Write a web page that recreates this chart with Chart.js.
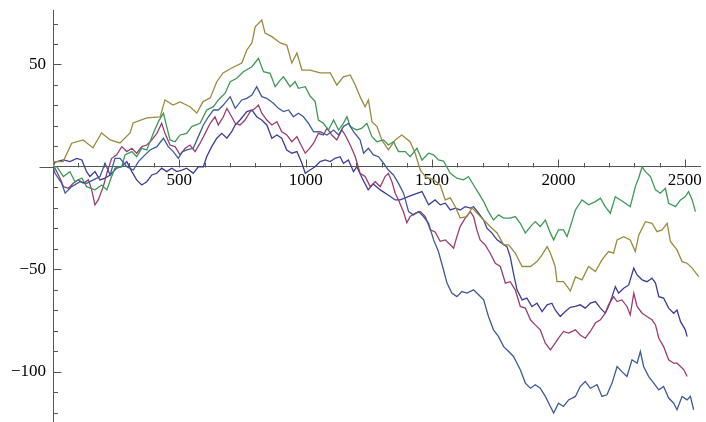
<!DOCTYPE html>
<html>
<head>
<meta charset="utf-8">
<script src="https://cdn.jsdelivr.net/npm/chart.js@4.4.1/dist/chart.umd.min.js"></script>
<style>
  html, body { margin: 0; padding: 0; background: #fff; }
  #wrap { width: 706px; height: 422px; }
</style>
</head>
<body>
<div id="wrap"><canvas id="walks"></canvas></div>
<script>
// five random walks, values as [step, position]
const indigo = [[0,0],[8,2.4],[41,3.4],[67,2.6],[94,4.2],[114,3.4],[133,-2.3],[146,-4.7],[166,-2.3],[186,-6.3],[206,-5.5],[226,-3.9],[252,-0.6],[272,0.1],[292,2.6],[312,-2.3],[331,-6.3],[351,-8.8],[371,-7.2],[391,-3.9],[411,-3.1],[430,-0.6],[450,-2.3],[470,-0.6],[490,-2.3],[510,-1.5],[529,-0.6],[555,-3.1],[575,0.1],[595,0.1],[608,5],[628,9.9],[648,14],[668,16.4],[688,14],[707,17.2],[721,20.5],[740,22.9],[767,27],[787,27.8],[806,24.5],[826,22.9],[846,20.5],[866,14],[886,15.6],[905,14],[925,8.3],[945,6.7],[965,7.5],[985,1.8],[998,-3.1],[1017,-1.5],[1037,0.1],[1057,2.6],[1077,3.4],[1097,2.6],[1116,4.2],[1136,5],[1149,1.8],[1169,3.4],[1189,-2.3],[1202,0.1],[1223,-5.4],[1247,-11.2],[1267,-8.3],[1295,-11.2],[1326,-13.7],[1354,-16.1],[1374,-16.1],[1413,-14.1],[1460,-12],[1486,-18.5],[1512,-16.1],[1532,-18.5],[1552,-17.7],[1572,-21],[1592,-20.1],[1611,-21],[1631,-19.4],[1651,-20.1],[1664,-19.4],[1684,-22.6],[1704,-25.9],[1717,-29.9],[1737,-32.3],[1757,-35.6],[1776,-37.2],[1796,-38.9],[1809,-43.8],[1822,-51.9],[1836,-60],[1856,-64.9],[1875,-64],[1895,-68.1],[1915,-66.5],[1935,-70.6],[1955,-67.3],[1974,-66.5],[1987,-69.8],[2007,-73],[2027,-70.6],[2047,-68.5],[2067,-68],[2086,-67.3],[2106,-68.9],[2126,-66.5],[2146,-65.7],[2166,-68.9],[2185,-71.4],[2198,-68.1],[2212,-63.3],[2225,-58.4],[2238,-61.6],[2258,-59.2],[2278,-57.6],[2298,-49.4],[2311,-52.7],[2331,-55.1],[2350,-56],[2370,-54.3],[2384,-56.7],[2397,-63.3],[2416,-64],[2436,-68.9],[2456,-71.4],[2469,-69.8],[2483,-75.5],[2502,-79.5],[2509,-82.8]];

const magenta = [[0,0],[8,-0.6],[28,-5.5],[41,-9.6],[61,-10.4],[80,-8],[100,-6.3],[120,-8],[140,-6.3],[153,-11.2],[166,-18.5],[179,-16.1],[199,-9.6],[213,-3.1],[232,4.2],[252,5.9],[272,9.9],[292,7.5],[312,9.1],[331,6.7],[351,9.9],[371,10.7],[391,13.2],[411,16.4],[430,21.3],[443,16.4],[463,10.7],[483,9.9],[503,5.9],[523,9.1],[542,10.7],[562,7.5],[582,11.6],[602,16.4],[622,21.3],[641,24.5],[654,20.5],[674,24.5],[688,28.6],[707,24.5],[721,21.3],[740,20.5],[760,22.9],[780,27],[800,28.6],[813,30.2],[826,26.2],[846,22.9],[866,20.5],[886,22.1],[905,17.2],[925,15.6],[945,12.3],[965,14.8],[978,11.6],[998,6.7],[1017,9.3],[1031,11.6],[1050,16.4],[1070,15.6],[1084,18.9],[1103,15.6],[1123,13.2],[1143,18],[1156,15.6],[1176,10.7],[1196,5],[1215,-3.1],[1235,-4.7],[1255,-9.6],[1275,-7.2],[1295,-9.6],[1314,-4.7],[1327,-3.1],[1341,-7.2],[1354,-12.8],[1367,-16.1],[1387,-22],[1400,-27.3],[1413,-24.2],[1433,-22.6],[1453,-21.8],[1473,-24.2],[1493,-30.7],[1512,-31.7],[1532,-36.3],[1552,-35.6],[1572,-38],[1585,-39.7],[1598,-34],[1611,-29.1],[1631,-25],[1651,-21.8],[1664,-24.2],[1677,-30.7],[1690,-35.6],[1710,-38],[1730,-42.1],[1750,-47],[1770,-48.6],[1790,-56.7],[1809,-56],[1829,-60],[1849,-68.1],[1869,-68.9],[1889,-74.6],[1908,-77.1],[1928,-79.5],[1948,-86],[1968,-89.3],[1987,-86],[2000,-83.6],[2020,-80.3],[2040,-81.1],[2067,-79.5],[2086,-82],[2106,-83.6],[2126,-80.3],[2146,-76.2],[2166,-74.6],[2185,-71.4],[2198,-67.3],[2218,-63.3],[2232,-65.7],[2251,-64.9],[2271,-68.1],[2284,-72.2],[2298,-61.6],[2311,-68.1],[2331,-71.4],[2350,-73],[2370,-74.6],[2384,-77.1],[2397,-83.6],[2416,-87.7],[2436,-94.1],[2456,-95.8],[2469,-95.8],[2483,-97.4],[2496,-99],[2509,-102.3]];

const olive = [[0,0],[1,2.6],[40,2.6],[74,11.6],[119,13.2],[158,9.3],[192,16.6],[226,13.2],[265,11.7],[305,16.6],[317,21.5],[371,23.9],[424,24.4],[443,32.7],[475,30.2],[503,31.7],[542,29.4],[569,26.3],[594,31.9],[622,33.7],[648,41.6],[673,45.9],[707,48.3],[747,50.7],[767,57.1],[787,60.5],[800,68.4],[826,71.7],[839,65.4],[866,63.6],[899,60.5],[925,59.5],[945,50.7],[965,55.6],[985,47.3],[1017,47.3],[1057,45.9],[1097,45.9],[1123,40],[1149,44],[1176,44.9],[1196,40],[1215,34.3],[1235,29.4],[1248,32.7],[1262,22.1],[1282,19.7],[1301,13.2],[1327,8.3],[1354,13.2],[1380,15.6],[1413,12.3],[1433,6.7],[1453,-1.5],[1473,-4.7],[1506,-6.3],[1532,-8.8],[1552,-16.1],[1572,-15.1],[1592,-19.4],[1611,-24.9],[1638,-24.2],[1658,-20],[1677,-22.4],[1704,-25.9],[1730,-29.1],[1757,-32.2],[1783,-38],[1803,-38],[1829,-42],[1856,-48.6],[1889,-48.6],[1915,-46.2],[1935,-42.9],[1955,-38.9],[1968,-42],[1987,-48.6],[1994,-56],[2020,-56],[2047,-60.5],[2067,-53.7],[2093,-55.1],[2119,-48.6],[2146,-51.1],[2172,-45.4],[2198,-41.3],[2218,-42.1],[2232,-35.6],[2258,-34],[2284,-35.6],[2304,-41.3],[2318,-33.2],[2344,-26.7],[2370,-27.5],[2390,-31.6],[2410,-30.7],[2430,-27.5],[2443,-36.4],[2469,-40.5],[2489,-46.2],[2509,-47],[2529,-49.4],[2555,-53.5]];

const green = [[0,0],[15,0.1],[41,-4.7],[67,-2.3],[87,-7.2],[114,-5.4],[133,-9.6],[166,-11.2],[193,-8.8],[213,-11.2],[232,-4.7],[245,-0.5],[272,0.1],[285,5.9],[312,7.5],[331,5],[351,9.1],[371,8.3],[397,16.4],[417,22.1],[437,26.2],[450,19.7],[463,13.2],[483,12.3],[503,15.6],[529,16.4],[549,19.7],[582,21.3],[608,27.8],[635,29.4],[654,32.7],[681,36],[701,41.6],[727,43.3],[753,46.5],[787,48.9],[813,53],[833,46.5],[859,45.7],[879,39.2],[899,42.4],[912,44],[938,39.2],[958,41.6],[971,38.4],[998,39.2],[1017,34.6],[1037,32],[1050,22.9],[1070,21.3],[1090,18],[1110,22.9],[1130,18],[1149,21.3],[1163,24.5],[1176,19.7],[1202,18],[1222,18.9],[1242,21.3],[1262,14.8],[1282,12.3],[1308,13.2],[1327,10.7],[1347,12.3],[1367,7.5],[1394,7.5],[1413,5],[1440,9.1],[1460,3.4],[1486,6.7],[1506,5.9],[1525,3.4],[1545,2.9],[1572,-3.1],[1598,-5.5],[1624,-6.3],[1644,-4.7],[1664,-8.8],[1684,-12.8],[1704,-16.9],[1723,-21.8],[1743,-25.9],[1763,-23.4],[1783,-25],[1809,-25],[1829,-24.2],[1849,-27.5],[1869,-32.3],[1889,-29.1],[1908,-26.7],[1928,-29.1],[1948,-25.9],[1968,-32.3],[1981,-35.6],[2000,-30.7],[2020,-30.7],[2034,-34],[2053,-26.7],[2067,-21],[2093,-16.1],[2119,-18.5],[2146,-16.9],[2166,-15.3],[2185,-19.4],[2205,-22.6],[2225,-14.5],[2245,-16.1],[2265,-17.7],[2284,-19.4],[2304,-9.6],[2317,-5.5],[2331,0.1],[2344,-2.3],[2364,-4.7],[2384,-11.2],[2403,-12.8],[2423,-10.4],[2436,-17.7],[2463,-19.4],[2483,-16.1],[2502,-14.5],[2515,-12],[2529,-16.1],[2542,-21.8]];

const steel = [[0,0],[8,-3.1],[34,-7.9],[48,-12.8],[74,-9.6],[107,-7.2],[133,-8],[160,-6.3],[186,-4.7],[206,1.8],[226,-3.9],[245,4.2],[265,4.2],[292,0.1],[318,-1.5],[338,2.6],[364,5.9],[384,8.3],[411,9.9],[437,14],[456,9.9],[476,7.5],[496,4.2],[511,7.3],[529,8.3],[555,9.1],[575,14.8],[595,20.5],[615,24.5],[635,27.8],[654,27.8],[674,30.2],[701,34.3],[721,28.6],[747,32.7],[767,33.5],[787,35.1],[806,39.2],[826,34.3],[846,33.5],[872,31.1],[892,28.6],[912,27],[932,27.8],[951,24.5],[971,26.2],[991,24.5],[1011,21.3],[1031,17.1],[1057,17.2],[1084,15.6],[1110,18],[1130,15.6],[1149,19.7],[1169,21.3],[1189,17.2],[1215,13.2],[1229,6.7],[1248,9.1],[1268,5.9],[1288,5],[1308,1.8],[1327,-1.5],[1347,-3.9],[1367,-8],[1387,-12.8],[1407,-21.8],[1426,-23.4],[1446,-21.8],[1466,-24.2],[1486,-27.5],[1506,-35.6],[1525,-41.3],[1545,-50.2],[1559,-56.7],[1578,-61.6],[1598,-63.3],[1618,-60.8],[1638,-61.6],[1664,-60],[1684,-62.4],[1704,-64.9],[1723,-73],[1743,-79.5],[1763,-82.8],[1783,-87.7],[1803,-90.1],[1822,-92.5],[1849,-99],[1869,-105.5],[1889,-108],[1908,-106.3],[1928,-108],[1948,-112],[1968,-116.9],[1981,-120.1],[2000,-115.3],[2020,-116.9],[2040,-113.7],[2067,-112],[2086,-107.2],[2106,-104.7],[2126,-108],[2153,-106.3],[2172,-112],[2192,-111.2],[2212,-105.5],[2232,-97.4],[2251,-99.9],[2271,-102.3],[2291,-94.1],[2311,-95.8],[2324,-90.1],[2337,-97.4],[2357,-102.3],[2377,-105.5],[2397,-108.8],[2416,-107.2],[2436,-112.8],[2456,-115.3],[2469,-118.5],[2489,-112],[2509,-113.7],[2522,-112],[2535,-118.5]];

const xTicks = [500, 1000, 1500, 2000, 2500];
const yTicks = [-100, -50, 50];

// Mathematica's default line colours, in plotting order
const seriesList = [indigo, magenta, olive, green, steel];
const seriesColors = ['#3d3d99', '#993d71', '#998b3d', '#3d9956', '#3d5a99'];

const axisColor = '#555';

// short inward tick marks, long ones on the labelled values,
// plus the little stub of the x axis left of the origin
const axisTicks = {
  id: 'axisTicks',
  afterDraw(chart) {
    const {ctx, scales: {x, y}} = chart;
    const x0 = Math.round(x.getPixelForValue(0)) + 0.5;
    const y0 = Math.round(y.getPixelForValue(0)) + 0.5;
    ctx.save();
    ctx.strokeStyle = axisColor;
    ctx.lineWidth = 1;
    ctx.beginPath();
    ctx.moveTo(x0 - 14, y0);
    ctx.lineTo(x0, y0);
    for (let v = 100; v <= x.max; v += 100) {
      const px = Math.round(x.getPixelForValue(v)) + 0.5;
      const len = v % 500 === 0 ? 8 : 4.5;
      ctx.moveTo(px, y0);
      ctx.lineTo(px, y0 - len);
    }
    for (let v = -120; v <= y.max; v += 10) {
      if (v === 0) continue;
      const py = Math.round(y.getPixelForValue(v)) + 0.5;
      const len = v % 50 === 0 ? 8 : 4.5;
      ctx.moveTo(x0, py);
      ctx.lineTo(x0 + len, py);
    }
    ctx.stroke();
    ctx.restore();
  }
};

const fmt = v => (v < 0 ? '\u2212' + Math.abs(v) : String(v));
const tickFont = { family: "'Liberation Serif', 'DejaVu Serif', serif", size: 17 };

new Chart(document.getElementById('walks'), {
  type: 'line',
  data: {
    datasets: seriesList.map((s, i) => ({
      data: s.map(p => ({ x: p[0], y: p[1] })),
      borderColor: seriesColors[i],
      borderWidth: 1.3,
      pointRadius: 0,
      tension: 0,
      order: seriesList.length - i
    }))
  },
  options: {
    responsive: true,
    maintainAspectRatio: false,
    animation: false,
    layout: { padding: { left: 0, right: 6, top: 10, bottom: 1 } },
    plugins: { legend: { display: false }, tooltip: { enabled: false } },
    scales: {
      x: {
        type: 'linear',
        min: 0,
        max: 2560,
        position: { y: 0 },
        afterBuildTicks: axis => { axis.ticks = xTicks.map(v => ({ value: v })); },
        afterFit: axis => { axis.paddingLeft = 0; axis.paddingRight = 0; },
        grid: { display: false, drawTicks: false },
        border: { display: true, color: axisColor, width: 1 },
        ticks: { font: tickFont, color: '#000', padding: 3, maxRotation: 0, callback: fmt }
      },
      y: {
        type: 'linear',
        min: -124,
        max: 76.6,
        position: 'left',
        afterBuildTicks: axis => { axis.ticks = yTicks.map(v => ({ value: v })); },
        afterFit: axis => { axis.width = 53; axis.paddingTop = 0; axis.paddingBottom = 0; },
        grid: { display: false, drawTicks: false },
        border: { display: true, color: axisColor, width: 1 },
        ticks: { font: tickFont, color: '#000', padding: 7, callback: fmt }
      }
    }
  },
  plugins: [axisTicks]
});
</script>
</body>
</html>
